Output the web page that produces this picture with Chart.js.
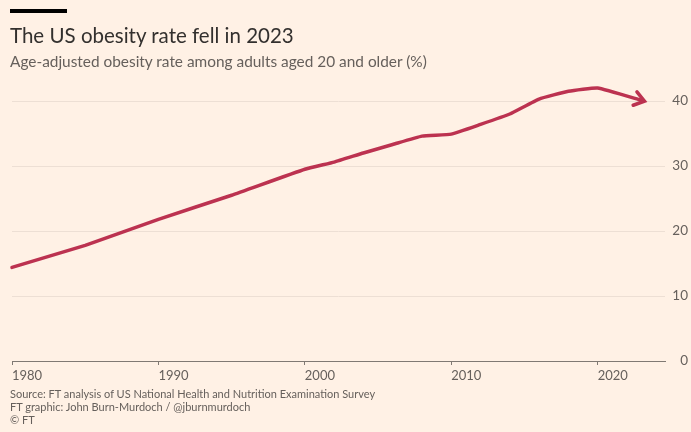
<!DOCTYPE html>
<html>
<head>
<meta charset="utf-8">
<script src="https://cdn.jsdelivr.net/npm/chart.js@4"></script>
<style>
  html, body { margin:0; padding:0; background:#fff1e5; }
  #wrap { position:relative; width:691px; height:432px; overflow:hidden; background:#fff1e5; font-family: Lato, "Noto Sans", sans-serif; }
  #bar { position:absolute; left:10px; top:9px; width:57px; height:4px; background:#000; }
  #title { position:absolute; left:10px; top:23px; font-size:20.5px; color:#33302e; white-space:nowrap; line-height:24px; }
  #sub { position:absolute; left:10px; top:52px; font-size:15.4px; color:#66605c; white-space:nowrap; line-height:18px; }
  .foot { position:absolute; left:10px; font-size:11px; color:#66605c; white-space:nowrap; line-height:13px; }
  canvas { position:absolute; left:0; top:0; }
</style>
</head>
<body>
<div id="wrap">
  <canvas id="c" width="691" height="432"></canvas>
  <div id="bar"></div>
  <div id="title">The US obesity rate fell in 2023</div>
  <div id="sub">Age-adjusted obesity rate among adults aged 20 and older (%)</div>
  <div class="foot" style="top:387px">Source: FT analysis of US National Health and Nutrition Examination Survey</div>
  <div class="foot" style="top:400px">FT graphic: John Burn-Murdoch / @jburnmurdoch</div>
  <div class="foot" style="top:413px">© FT</div>
</div>
<script>
const years = [1980, 1985, 1990, 1995, 2000, 2002, 2004, 2006, 2008, 2010, 2012, 2014, 2016, 2018, 2020, 2023];
const obesityRate = [14.4, 17.8, 21.8, 25.5, 29.5, 30.6, 32.0, 33.3, 34.6, 34.9, 36.4, 38.0, 40.3, 41.5, 42.0, 40.1];
const xTicks = [1980, 1990, 2000, 2010, 2020];
const yTicks = [0, 10, 20, 30, 40];

const arrowPlugin = {
  id: 'arrowHead',
  afterDatasetsDraw(chart) {
    const meta = chart.getDatasetMeta(0);
    const pts = meta.data;
    const a = pts[pts.length - 2], b = pts[pts.length - 1];
    const ang = Math.atan2(b.y - a.y, b.x - a.x);
    const ctx = chart.ctx;
    const len = 12, spread = 0.62;
    const tipX = b.x + 3 * Math.cos(ang), tipY = b.y + 3 * Math.sin(ang);
    ctx.save();
    ctx.strokeStyle = '#bc3250';
    ctx.lineWidth = 3.5;
    ctx.lineCap = 'round';
    ctx.lineJoin = 'miter';
    ctx.beginPath();
    ctx.moveTo(tipX - len * Math.cos(ang - spread), tipY - len * Math.sin(ang - spread));
    ctx.lineTo(tipX, tipY);
    ctx.lineTo(tipX - len * Math.cos(ang + spread), tipY - len * Math.sin(ang + spread));
    ctx.stroke();
    ctx.restore();
  }
};

new Chart(document.getElementById('c'), {
  type: 'line',
  data: {
    datasets: [{
      data: years.map((y, i) => ({ x: y, y: obesityRate[i] })),
      borderColor: '#bc3250',
      borderWidth: 3.5,
      pointRadius: 0,
      tension: 0.12,
      borderCapStyle: 'round',
      borderJoinStyle: 'round',
      fill: false,
      clip: false
    }]
  },
  options: {
    responsive: false,
    animation: false,
    devicePixelRatio: 1,
    layout: { padding: { left: 12, top: 75, right: 3, bottom: 0 } },
    plugins: { legend: { display: false }, tooltip: { enabled: false } },
    scales: {
      x: {
        type: 'linear',
        min: 1980,
        max: 2024.6,
        afterBuildTicks(s) { s.ticks = xTicks.map(v => ({ value: v })); },
        afterFit(s) { s.height = 71; },
        border: { display: true, color: '#807973', width: 1 },
        grid: { display: true, drawOnChartArea: false, drawTicks: true, tickLength: 4, color: '#807973' },
        ticks: {
          align: 'start',
          padding: 3,
          maxRotation: 0,
          autoSkip: false,
          color: '#66605c',
          font: { family: 'Lato, "Noto Sans", sans-serif', size: 13 },
          callback: v => String(v)
        }
      },
      y: {
        position: 'right',
        min: 0,
        max: 44,
        afterBuildTicks(s) { s.ticks = yTicks.map(v => ({ value: v })); },
        afterFit(s) { s.width = 23; },
        border: { display: false },
        grid: {
          drawTicks: false,
          color: ctx => ctx.tick && ctx.tick.value === 0 ? 'rgba(0,0,0,0)' : '#eddfd4',
          lineWidth: 1
        },
        ticks: {
          crossAlign: 'far',
          padding: 6,
          color: '#66605c',
          font: { family: 'Lato, "Noto Sans", sans-serif', size: 13.5 }
        }
      }
    }
  },
  plugins: [arrowPlugin]
});
</script>
</body>
</html>
